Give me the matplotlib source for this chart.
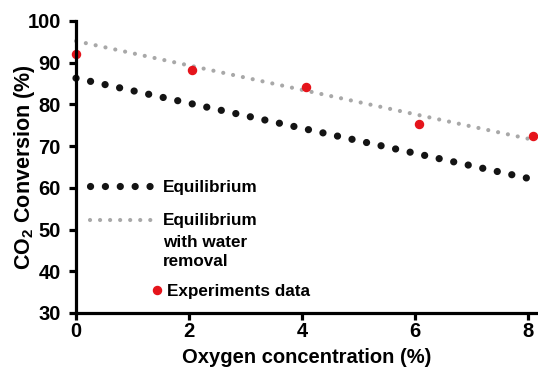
import matplotlib
matplotlib.use("Agg")
import matplotlib.pyplot as plt

plt.rcParams['font.family'] = ['Liberation Sans', 'DejaVu Sans']
plt.rcParams['font.weight'] = 'bold'
plt.rcParams['mathtext.fontset'] = 'custom'
plt.rcParams['mathtext.rm'] = 'Liberation Sans:bold'
plt.rcParams['mathtext.bf'] = 'Liberation Sans:bold'
plt.rcParams['mathtext.default'] = 'rm'

# Data
eq_x = [0, 8]
eq_y = [86.3, 62.3]
eqw_x = [0, 8]
eqw_y = [95.2, 71.8]
exp_x = [0.0, 2.05, 4.07, 6.07, 8.09]
exp_y = [92.0, 88.3, 84.2, 75.4, 72.5]
xticks = [0, 2, 4, 6, 8]
yticks = [30, 40, 50, 60, 70, 80, 90, 100]

BLACK = '#141414'
GRAY = '#a8a8a8'
RED = '#e5141b'

fig = plt.figure(figsize=(5.38, 3.70), dpi=100)
ax = fig.add_axes([76/538, 1-313/370, 462/538, 292/370])

l_eq, = ax.plot(eq_x, eq_y, color=BLACK, lw=5.2, dashes=(0.01, 2.05),
                dash_capstyle='round', clip_on=False, zorder=2)
l_eqw, = ax.plot(eqw_x, eqw_y, color=GRAY, lw=3.0, dashes=(0.01, 2.4),
                 dash_capstyle='round', clip_on=False, zorder=2)
l_exp, = ax.plot(exp_x, exp_y, ls='none', marker='o', ms=5.8, color=RED,
                 mec=RED, clip_on=False, zorder=3)

ax.set_xlim(0, 8.18)
ax.set_ylim(30, 100)
ax.set_xticks(xticks)
ax.set_yticks(yticks)
for s in ['top', 'right']:
    ax.spines[s].set_visible(False)
for s in ['left', 'bottom']:
    ax.spines[s].set_linewidth(2.3)
    ax.spines[s].set_color('black')
    ax.spines[s].set_zorder(4)
ax.tick_params(width=2.3, length=5, labelsize=14.5, color='black')
ax.tick_params(axis='x', pad=1.5)
ax.tick_params(axis='y', pad=6)
for t in ax.get_xticklabels() + ax.get_yticklabels():
    t.set_fontweight('bold')

ax.set_xlabel('Oxygen concentration (%)', fontsize=14.5, fontweight='bold', labelpad=5)
ax.set_ylabel('CO$_2$ Conversion (%)', fontsize=15.5, fontweight='bold', labelpad=-7)

fs = 12.3
leg1 = ax.legend([l_eq, l_eqw], ['Equilibrium', 'Equilibrium'], loc='center left',
                 bbox_to_anchor=(0.03, 0.373), borderaxespad=0, borderpad=0,
                 frameon=False, handlelength=3.8, handletextpad=0.47,
                 labelspacing=1.1, prop={'weight': 'bold', 'size': fs})
ax.add_artist(leg1)
ax.text(0.188, 0.267, 'with water\nremoval', transform=ax.transAxes, fontsize=fs,
        fontweight='bold', va='top', ha='left', linespacing=1.3)
leg2 = ax.legend([l_exp], ['Experiments data'], loc='center left',
                 bbox_to_anchor=(0.16, 0.075), borderaxespad=0, borderpad=0,
                 frameon=False, handlelength=0.8, handletextpad=0.18, numpoints=1,
                 prop={'weight': 'bold', 'size': fs})

fig.savefig('out.png', dpi=100)
